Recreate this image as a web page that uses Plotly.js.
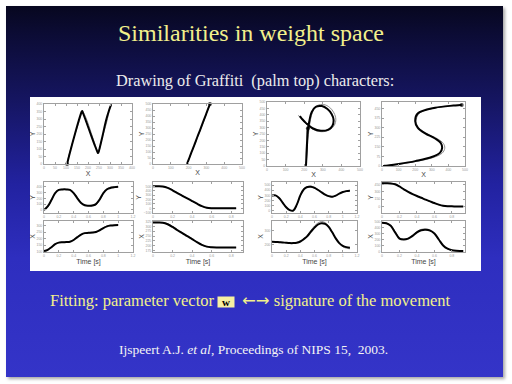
<!DOCTYPE html>
<html>
<head>
<meta charset="utf-8">
<script src="https://cdn.plot.ly/plotly-3.0.1.min.js"></script>
<style>
html,body{margin:0;padding:0;width:512px;height:384px;overflow:hidden;background:#ffffff;}
#slide{position:absolute;left:6px;top:6px;width:497px;height:371px;
background:linear-gradient(180deg,#07071f 0%,#0c0c36 8%,#151560 25%,#2222a0 48%,#2e2ebf 68%,#3434c8 100%);
box-shadow:2px 2px 3px rgba(0,0,0,0.35);}
#chart{position:absolute;left:0;top:0;width:512px;height:384px;}
</style>
</head>
<body>
<div id="slide"></div>
<div id="chart"></div>
<script>
// ---- Character 1 ("N") ----
const t1 = [0, .05, .1, .15, .2, .25, .3, .35, .4, .45, .5, .55, .6, .65, .7, .75, .8, .85, .9, .95, 1.0];
const x1Fit = [105, 115, 135, 158, 170, 173, 174, 176, 190, 212, 232, 243, 245, 247, 252, 265, 282, 295, 301, 304, 305];
const y1Fit = [0, 60, 170, 290, 345, 353, 353, 345, 290, 200, 120, 80, 73, 75, 100, 180, 290, 355, 380, 392, 398];
const x1Demo = [105, 112, 133, 160, 172, 174, 175, 178, 193, 214, 233, 243, 244, 245, 250, 262, 285, 298, 303, 305, 306];
const y1Demo = [0, 50, 160, 285, 345, 355, 354, 348, 300, 210, 125, 82, 72, 70, 85, 160, 280, 365, 392, 398, 400];
// ---- Character 2 (straight stroke) ----
const t2 = [0, .05, .1, .15, .2, .25, .3, .35, .4, .45, .5, .55, .6, .65, .7, .75, .8, .85];
const x2Fit = [320, 320, 319, 311, 297, 280, 265, 249, 234, 218, 204, 195, 192, 191, 191, 191, 191, 191];
const y2Fit = [500, 500, 495, 465, 410, 345, 285, 225, 165, 105, 50, 15, 3, 0, 0, 0, 0, 0];
const x2Demo = [321, 321, 319, 314, 300, 284, 268, 252, 235, 218, 203, 194, 191, 190, 190, 190, 190, 190];
const y2Demo = [500, 499, 492, 472, 418, 352, 292, 230, 162, 102, 45, 12, 2, 0, 0, 0, 0, 0];
// ---- Character 3 ("P" loop) ----
const t3 = [0, .05, .1, .15, .2, .25, .3, .35, .4, .45, .5, .55, .6, .65, .7, .75, .8, .85, .9, .95, 1.0, 1.05, 1.1];
const x3Fit = [220, 219, 217, 215, 212, 210, 210, 213, 222, 240, 262, 295, 325, 348, 358, 352, 330, 290, 245, 210, 190, 180, 176];
const y3Fit = [295, 300, 250, 160, 70, 15, 5, 120, 300, 420, 462, 468, 445, 405, 360, 315, 285, 275, 295, 335, 365, 383, 390];
const x3Demo = [222, 221, 218, 216, 213, 211, 211, 215, 226, 246, 270, 305, 337, 360, 370, 362, 336, 292, 242, 205, 183, 172, 168];
const y3Demo = [290, 296, 255, 165, 75, 18, 3, 110, 290, 425, 472, 480, 458, 415, 365, 318, 282, 268, 290, 335, 370, 390, 398];
// ---- Character 4 ("S") ----
const t4 = [0, .05, .1, .15, .2, .25, .3, .35, .4, .45, .5, .55, .6, .65, .7, .75, .8, .85, .9, .93];
const x4Fit = [480, 472, 430, 320, 215, 200, 215, 260, 320, 355, 362, 350, 300, 200, 100, 45, 20, 10, 7, 6];
const y4Fit = [477, 476, 472, 455, 410, 350, 300, 255, 215, 178, 140, 105, 70, 38, 15, 5, 2, 1, 0, 0];
const x4Demo = [482, 474, 440, 335, 225, 205, 222, 272, 335, 370, 378, 362, 305, 195, 95, 40, 18, 9, 6, 5];
const y4Demo = [478, 477, 474, 458, 412, 350, 298, 252, 212, 176, 138, 100, 65, 33, 12, 4, 1, 0, 0, 0];

const chars = [
  {t: t1, xf: x1Fit, yf: y1Fit, xd: x1Demo, yd: y1Demo},
  {t: t2, xf: x2Fit, yf: y2Fit, xd: x2Demo, yd: y2Demo},
  {t: t3, xf: x3Fit, yf: y3Fit, xd: x3Demo, yd: y3Demo},
  {t: t4, xf: x4Fit, yf: y4Fit, xd: x4Demo, yd: y4Demo}
];

const W = 512, H = 384;
const fx = p => p / W;
const fy = p => 1 - p / H;

// pixel boxes [left, right, top, bottom]
const boxXY = [[44,132,104,164],[153,242,104,164],[267,360,102,166],[382,465,102,166]];
const boxYt = [[44,133,182,213],[153,243,182,213],[272,357,182,213],[382,465,182,213]];
const boxXt = [[44,133,221,252],[153,243,221,252],[272,357,221,252],[382,465,221,252]];

// axis settings
const xyRangeX = [[0,400],[0,500],[0,500],[0,500]];
const xyRangeY = [[0,400],[0,500],[0,500],[0,500]];
const xyDtickX = [50,100,100,100];
const xyDtickY = [50,50,50,75];
const tRange = [[0,1.2],[0,0.92],[0,1.2],[0,0.95]];
const ytRange = [[-53,480],[-106,598],[-42,560],[-134,502]];
const xtRange = [[98,336],[167,328],[144,374],[-10,511]];
const ytDtick = [100,100,100,150];
const xtDtick = [50,25,100,100];

const sans = "Arial, 'Liberation Sans', sans-serif";
const tickFont = {size: 3.5, color: '#9a9a9a', family: sans};
const titleFont = {size: 7, color: '#454545', family: sans};

function ax(domain, range, dtick, title, anchor) {
  const a = {
    domain: domain, range: range, dtick: dtick, anchor: anchor,
    showline: true, mirror: 'ticks', linecolor: '#a0a0a0', linewidth: 1,
    ticks: 'inside', ticklen: 2, tickcolor: '#a0a0a0', tickwidth: 1,
    tickfont: tickFont, showgrid: false, zeroline: false, fixedrange: true,
    automargin: false
  };
  if (title) a.title = {text: title, font: titleFont, standoff: 0};
  return a;
}

const data = [];
const layout = {
  width: W, height: H,
  margin: {l: 0, r: 0, t: 0, b: 0},
  paper_bgcolor: 'rgba(0,0,0,0)',
  plot_bgcolor: '#ffffff',
  showlegend: false,
  shapes: [{type: 'rect', xref: 'paper', yref: 'paper', x0: fx(30), x1: fx(481), y0: fy(271), y1: fy(97),
            fillcolor: '#ffffff', line: {width: 0}, layer: 'below'}],
  annotations: []
};

chars.forEach((c, i) => {
  const nXY = i + 1, nYt = i + 5, nXt = i + 9;
  const b1 = boxXY[i], b2 = boxYt[i], b3 = boxXt[i];
  layout['xaxis' + nXY] = ax([fx(b1[0]), fx(b1[1])], xyRangeX[i], xyDtickX[i], 'X', 'y' + nXY);
  layout['yaxis' + nXY] = ax([fy(b1[3]), fy(b1[2])], xyRangeY[i], xyDtickY[i], 'Y', 'x' + nXY);
  layout['xaxis' + nYt] = ax([fx(b2[0]), fx(b2[1])], tRange[i], 0.2, null, 'y' + nYt);
  layout['yaxis' + nYt] = ax([fy(b2[3]), fy(b2[2])], ytRange[i], ytDtick[i], 'Y', 'x' + nYt);
  layout['xaxis' + nXt] = ax([fx(b3[0]), fx(b3[1])], tRange[i], 0.2, 'Time [s]', 'y' + nXt);
  layout['yaxis' + nXt] = ax([fy(b3[3]), fy(b3[2])], xtRange[i], xtDtick[i], 'X', 'x' + nXt);

  const gray = {color: '#8c8c8c', width: 1, shape: 'spline', smoothing: 1};
  const black = {color: '#000000', width: 2, shape: 'spline', smoothing: 1};
  const startSizes = c.xf.map((v, k) => k === 0 ? 4 : 0);

  // XY
  data.push({x: c.xd, y: c.yd, xaxis: 'x' + nXY, yaxis: 'y' + nXY, mode: 'lines', line: gray, hoverinfo: 'skip'});
  data.push({x: c.xf, y: c.yf, xaxis: 'x' + nXY, yaxis: 'y' + nXY, mode: 'lines+markers', line: black,
             marker: {size: startSizes, color: '#000000', symbol: 'circle', line: {width: 0}}, cliponaxis: false, hoverinfo: 'skip'});
  // Y(t)
  data.push({x: c.t, y: c.yd, xaxis: 'x' + nYt, yaxis: 'y' + nYt, mode: 'lines', line: gray, hoverinfo: 'skip'});
  data.push({x: c.t, y: c.yf, xaxis: 'x' + nYt, yaxis: 'y' + nYt, mode: 'lines', line: black, hoverinfo: 'skip'});
  // X(t)
  data.push({x: c.t, y: c.xd, xaxis: 'x' + nXt, yaxis: 'y' + nXt, mode: 'lines', line: gray, hoverinfo: 'skip'});
  data.push({x: c.t, y: c.xf, xaxis: 'x' + nXt, yaxis: 'y' + nXt, mode: 'lines', line: black, hoverinfo: 'skip'});
});

const serif = "'Liberation Serif', 'Times New Roman', 'DejaVu Serif', serif";
layout.annotations.push(
  {xref: 'paper', yref: 'paper', x: fx(250.5), y: fy(33), xanchor: 'center', yanchor: 'middle', showarrow: false,
   text: 'Similarities in weight space', font: {family: serif, size: 24, color: '#f2f08c'}},
  {xref: 'paper', yref: 'paper', x: fx(254.5), y: fy(80), xanchor: 'center', yanchor: 'middle', showarrow: false,
   text: 'Drawing of Graffiti \u00a0(palm top) characters:', font: {family: serif, size: 16.3, color: '#ececec'}},
  {xref: 'paper', yref: 'paper', x: fx(217), y: fy(300), xanchor: 'right', yanchor: 'middle', showarrow: false,
   text: 'Fitting: parameter vector', font: {family: serif, size: 16.5, color: '#f2f08c'}},
  {xref: 'paper', yref: 'paper', x: fx(226), y: fy(302), xanchor: 'center', yanchor: 'middle', showarrow: false,
   text: '<b>w</b>', font: {family: serif, size: 11, color: '#000000'}, bgcolor: '#f6f0a2',
   width: 14, height: 8, borderpad: 1},
  {xref: 'paper', yref: 'paper', x: fx(240), y: fy(300), xanchor: 'left', yanchor: 'middle', showarrow: false,
   text: '<span style="font-family:\'DejaVu Sans\'">\u2190\u2192</span> signature of the movement',
   font: {family: serif, size: 16.5, color: '#f2f08c'}},
  {xref: 'paper', yref: 'paper', x: fx(253), y: fy(349), xanchor: 'center', yanchor: 'middle', showarrow: false,
   text: 'Ijspeert A.J. <i>et al</i>, Proceedings of NIPS 15, \u00a02003.', font: {family: serif, size: 13.5, color: '#f4f4f4'}}
);

Plotly.newPlot('chart', data, layout, {staticPlot: true, displayModeBar: false});
</script>
</body>
</html>
